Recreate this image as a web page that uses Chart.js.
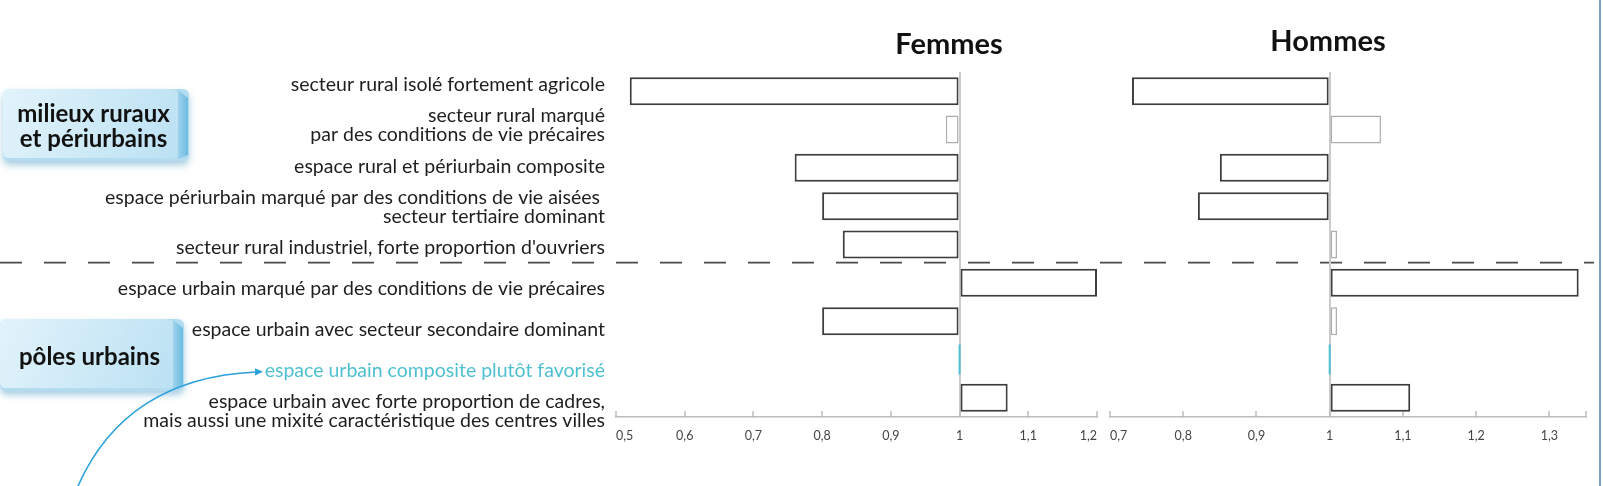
<!DOCTYPE html>
<html>
<head>
<meta charset="utf-8">
<script src="https://cdn.jsdelivr.net/npm/chart.js@4.4.1/dist/chart.umd.min.js"></script>
<style>
  html, body { margin: 0; padding: 0; background: #fff; }
  #wrap { position: relative; width: 1603px; height: 486px; }
  #wrap canvas { position: absolute; left: 0; top: 0; }
</style>
</head>
<body>
<div id="wrap">
  <canvas id="etiquettes" width="1603" height="486"></canvas>
  <canvas id="femmes" width="1603" height="486"></canvas>
  <canvas id="hommes" width="1603" height="486"></canvas>
</div>
<script>
// types d'espace (catégories)
const categories = [
  'secteur rural isolé fortement agricole',
  ['secteur rural marqué', 'par des conditions de vie précaires'],
  'espace rural et périurbain composite',
  ['espace périurbain marqué par des conditions de vie aisées ', 'secteur tertiaire dominant'],
  "secteur rural industriel, forte proportion d'ouvriers",
  'espace urbain marqué par des conditions de vie précaires',
  'espace urbain avec secteur secondaire dominant',
  'espace urbain composite plutôt favorisé',
  ['espace urbain avec forte proportion de cadres,', 'mais aussi une mixité caractéristique des centres villes']
];

// rapports (référence = 1)
const femmes = [0.52, 0.98, 0.76, 0.80, 0.83, 1.20, 0.80, 1.00, 1.07];
const hommes = [0.73, 1.07, 0.85, 0.82, 1.01, 1.34, 1.01, 1.00, 1.11];

// écarts significatifs ou non
const significatifFemmes = [true, false, true, true, true, true, true, true, true];
const significatifHommes = [true, false, true, true, false, true, false, true, true];
const REFERENCE = 7; // espace urbain composite plutôt favorisé

const ticksFemmes = [0.5, 0.6, 0.7, 0.8, 0.9, 1, 1.1, 1.2];
const ticksHommes = [0.7, 0.8, 0.9, 1, 1.1, 1.2, 1.3, 1.35];

const groupes = [['milieux ruraux', 'et périurbains'], ['pôles urbains']];
const titres = ['Femmes', 'Hommes'];

const DARK = '#3d3d3d';
const LIGHT = '#adadad';
const CYAN = '#4fc0d2';

function formatTick(v) {
  if (Math.abs(v * 10 - Math.round(v * 10)) > 1e-6) return '';
  return String(Math.round(v * 10) / 10).replace('.', ',');
}

function roundRect(ctx, x, y, w, h, r) {
  ctx.beginPath();
  ctx.moveTo(x + r, y);
  ctx.lineTo(x + w - r, y);
  ctx.quadraticCurveTo(x + w, y, x + w, y + r);
  ctx.lineTo(x + w, y + h - r);
  ctx.quadraticCurveTo(x + w, y + h, x + w - r, y + h);
  ctx.lineTo(x + r, y + h);
  ctx.quadraticCurveTo(x, y + h, x, y + h - r);
  ctx.lineTo(x, y + r);
  ctx.quadraticCurveTo(x, y, x + r, y);
  ctx.closePath();
}

function badge(ctx, x, y, w, h, lines, dy) {
  const bev = 11;
  ctx.save();
  ctx.shadowColor = 'rgba(80,155,195,0.5)';
  ctx.shadowBlur = 7;
  ctx.shadowOffsetY = 4;
  ctx.fillStyle = '#b3dcf0';
  roundRect(ctx, x, y, w, h, 7);
  ctx.fill();
  ctx.restore();

  // face avant
  const g = ctx.createLinearGradient(x, y, x + w - bev, y + h);
  g.addColorStop(0, '#e2f3fb');
  g.addColorStop(1, '#bbe1f3');
  ctx.fillStyle = g;
  roundRect(ctx, x, y, w - bev, h - 3, 6);
  ctx.fill();

  // tranche droite
  const b = ctx.createLinearGradient(x + w - bev, 0, x + w, 0);
  b.addColorStop(0, '#9fd3ed');
  b.addColorStop(1, '#67b8e0');
  ctx.fillStyle = b;
  ctx.beginPath();
  ctx.moveTo(x + w - bev, y + 1);
  ctx.lineTo(x + w - 1, y + 9);
  ctx.lineTo(x + w - 1, y + h - 6);
  ctx.lineTo(x + w - bev, y + h - 2);
  ctx.closePath();
  ctx.fill();

  ctx.fillStyle = '#111';
  ctx.font = 'bold 24px Lato';
  ctx.textAlign = 'center';
  ctx.textBaseline = 'middle';
  const cx = x + (w - bev) / 2 + 3;
  const cy = y + (h - 3) / 2 + dy;
  lines.forEach((t, i) => {
    ctx.fillText(t, cx, cy + (i - (lines.length - 1) / 2) * 25);
  });
}

// encadrés, flèche de la colonne de gauche
const decorGauche = {
  id: 'decorGauche',
  afterDraw(chart) {
    const ctx = chart.ctx;
    badge(ctx, 3, 89, 186, 72, groupes[0], 3);
    badge(ctx, 0, 319, 184, 72, groupes[1], 4);

    // flèche vers la catégorie de référence
    ctx.save();
    ctx.strokeStyle = '#2ba1dc';
    ctx.fillStyle = '#2ba1dc';
    ctx.lineWidth = 1.6;
    ctx.beginPath();
    ctx.moveTo(78, 486);
    ctx.quadraticCurveTo(126, 378, 256, 372);
    ctx.stroke();
    ctx.beginPath();
    ctx.moveTo(263, 371.7);
    ctx.lineTo(255, 368.3);
    ctx.lineTo(255, 375.5);
    ctx.closePath();
    ctx.fill();
    ctx.restore();
  }
};

const decorFemmes = {
  id: 'decorFemmes',
  afterDraw(chart) {
    const ctx = chart.ctx;
    const y = chart.scales.y;
    const ySep = (y.getPixelForValue(4) + y.getPixelForValue(5)) / 2 - 1;
    ctx.save();
    ctx.strokeStyle = '#4a4a4a';
    ctx.lineWidth = 1.8;
    ctx.setLineDash([22, 22]);
    ctx.beginPath();
    ctx.moveTo(0, ySep);
    ctx.lineTo(1594, ySep);
    ctx.stroke();
    ctx.setLineDash([]);
    ctx.fillStyle = '#111';
    ctx.font = 'bold 29px Lato';
    ctx.textAlign = 'center';
    ctx.textBaseline = 'middle';
    ctx.fillText(titres[0], 949, 45);
    ctx.restore();
  }
};

const decorHommes = {
  id: 'decorHommes',
  afterDraw(chart) {
    const ctx = chart.ctx;
    ctx.save();
    ctx.fillStyle = '#111';
    ctx.font = 'bold 29px Lato';
    ctx.textAlign = 'center';
    ctx.textBaseline = 'middle';
    ctx.fillText(titres[1], 1328, 42);
    ctx.strokeStyle = '#7e9dcc';
    ctx.lineWidth = 2;
    ctx.beginPath();
    ctx.moveTo(1600, 0);
    ctx.lineTo(1600, 486);
    ctx.stroke();
    ctx.restore();
  }
};

// colonne des libellés
new Chart(document.getElementById('etiquettes'), {
  type: 'bar',
  data: { labels: categories, datasets: [] },
  options: {
    responsive: false,
    animation: false,
    indexAxis: 'y',
    layout: { padding: { left: 0, right: 0, top: 64, bottom: 54 } },
    plugins: { legend: { display: false }, tooltip: { enabled: false } },
    scales: {
      x: { display: false },
      y: {
        type: 'category',
        offset: true,
        afterFit: s => { s.width = 616; },
        grid: { display: false, drawTicks: false },
        border: { display: false },
        ticks: {
          padding: 11,
          autoSkip: false,
          color: c => c.index === REFERENCE ? CYAN : '#1e1e1e',
          font: { family: 'Lato', size: 19.5, lineHeight: 0.97 }
        }
      }
    }
  },
  plugins: [decorGauche]
});

function panel(canvasId, values, signif, ticks, padLeft, padRight, decor) {
  return new Chart(document.getElementById(canvasId), {
    type: 'bar',
    data: {
      labels: categories,
      datasets: [{
        data: values,
        base: 1,
        barPercentage: 0.73,
        categoryPercentage: 1,
        borderSkipped: false,
        borderWidth: c => c.dataIndex === REFERENCE ? 0 : (signif[c.dataIndex] ? 2 : 1.5),
        borderColor: c => signif[c.dataIndex] ? DARK : LIGHT,
        backgroundColor: c => c.dataIndex === REFERENCE ? CYAN : 'rgba(255,255,255,0.9)',
        inflateAmount: c => c.dataIndex === REFERENCE ? 1 : 'auto'
      }]
    },
    options: {
      responsive: false,
      animation: false,
      indexAxis: 'y',
      layout: { padding: { left: padLeft, right: padRight, top: 72, bottom: 0 } },
      plugins: { legend: { display: false }, tooltip: { enabled: false } },
      scales: {
        y: { type: 'category', display: false, offset: true },
        x: {
          type: 'linear',
          min: ticks[0],
          max: ticks[ticks.length - 1],
          afterBuildTicks: s => { s.ticks = ticks.map(v => ({ value: v })); },
          afterFit: s => { s.height = 69; },
          grid: {
            color: c => (c.tick && Math.abs(c.tick.value - 1) < 1e-9) ? '#cbcbcb' : 'rgba(0,0,0,0)',
            lineWidth: 2,
            tickColor: '#bdbdbd',
            tickWidth: 1.5,
            tickLength: -6
          },
          border: { display: true, color: '#bdbdbd', width: 1.5 },
          ticks: {
            align: 'inner',
            padding: 17,
            autoSkip: false,
            maxRotation: 0,
            color: '#444',
            font: { family: 'Lato', size: 12.5 },
            callback: v => formatTick(v)
          }
        }
      }
    },
    plugins: [decor]
  });
}

panel('femmes', femmes, significatifFemmes, ticksFemmes, 616, 1603 - 1097, decorFemmes);
panel('hommes', hommes, significatifHommes, ticksHommes, 1110, 1603 - 1590, decorHommes);
</script>
</body>
</html>
